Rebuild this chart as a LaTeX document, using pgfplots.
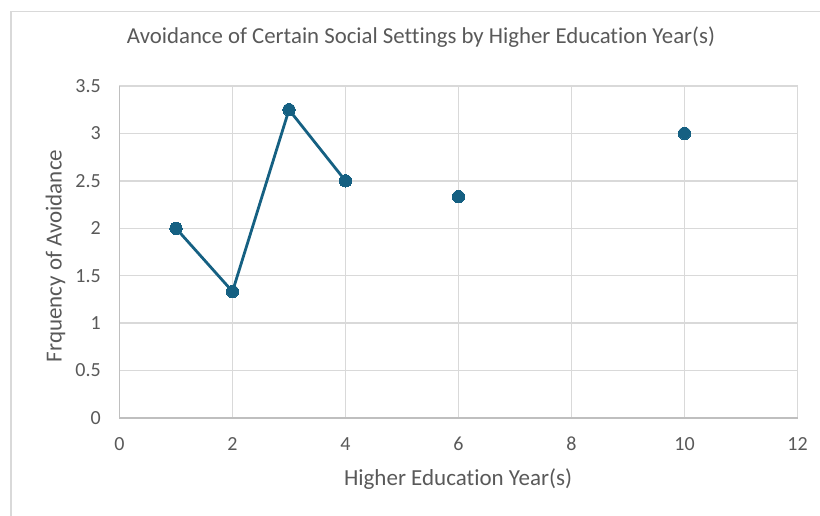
\documentclass[border=0pt]{standalone}
\usepackage{fontspec}
\setmainfont{Carlito}[Ligatures=CommonOff]
\usepackage{pgfplots}
\pgfplotsset{compat=1.18}
\definecolor{series}{HTML}{156082}
\definecolor{gridgray}{HTML}{D9D9D9}
\definecolor{axisgray}{HTML}{BFBFBF}
\definecolor{textgray}{HTML}{595959}
\begin{document}
\begin{tikzpicture}[x=1pt,y=1pt]
\begin{axis}[
  at={(0,0)}, anchor=south west,
  scale only axis, width=678pt, height=332pt,
  xmin=0, xmax=12, ymin=0, ymax=3.5,
  xtick={0,2,...,12}, ytick={0,0.5,...,3.5},
  axis lines*=left,
  axis line style={draw=axisgray, line width=1.3pt, -},
  grid=major,
  major grid style={draw=gridgray, line width=1.3pt},
  major tick length=0pt,
  /pgf/number format/assume math mode=true,
  yticklabel={\pgfmathprintnumber[fixed,precision=1]{\tick}},
  ticklabel style={font=\fontsize{20}{20}\selectfont, text=textgray, inner sep=0pt},
  xticklabel style={anchor=base, yshift=-32.7pt},
  yticklabel style={anchor=east, xshift=-18.5pt},
  title={Avoidance of Certain Social Settings by Higher Education Year(s)},
  title style={at={(axis description cs:0.4447,1.1105)}, anchor=base,
    font=\fontsize{22.8}{22.8}\selectfont, text=textgray, inner sep=0pt},
  xlabel={Higher Education Year(s)},
  xlabel style={at={(axis description cs:0.4993,-0.2048)}, anchor=base,
    font=\fontsize{23}{23}\selectfont, text=textgray, inner sep=0pt},
  ylabel={Frquency of Avoidance},
  ylabel style={at={(axis description cs:-0.0853,0.488)}, anchor=base,
    font=\fontsize{23}{23}\selectfont, text=textgray, inner sep=0pt},
  clip=false,
  unbounded coords=jump,
]
\addplot[color=series, line width=2.8pt, mark=*, mark size=6.2pt,
  mark options={fill=series, draw=series, line width=0pt}]
  coordinates {(1,2) (2,1.3333) (3,3.25) (4,2.5) (5,nan) (6,2.3333) (7,nan) (10,3)};
\end{axis}
% chart area frame
\draw[gridgray, line width=1.5pt] (-108.5,-140) -- (-108.5,406.5) -- (740,406.5);
\pgfresetboundingbox
\useasboundingbox (-119.5,-97) rectangle (700.5,418);
\end{tikzpicture}
\end{document}
